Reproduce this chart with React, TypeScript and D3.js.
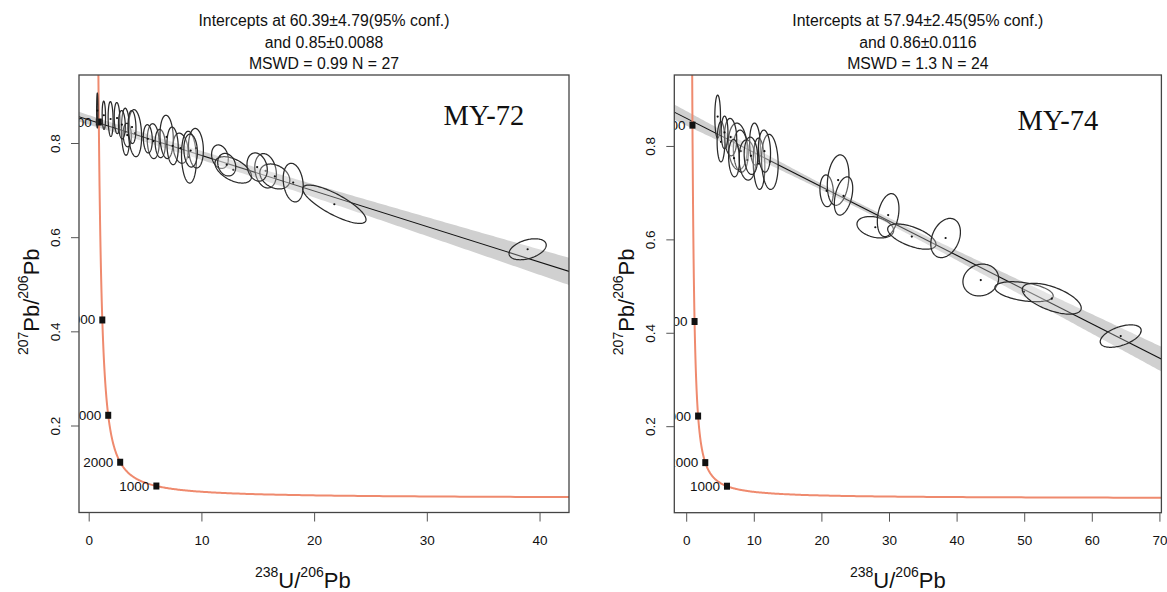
import React from "react";
import * as d3 from "d3";

// decay constants (per Ma) and U ratio
const L238 = 1.55125e-4;
const L235 = 9.8485e-4;
const U85 = 137.818;

const concordiaAges = [1000, 2000, 3000, 4000, 5000];

// ---- sample MY-72 ----
const titleA = ["Intercepts at 60.39±4.79(95% conf.)", "and 0.85±0.0088", "MSWD = 0.99 N = 27"];
const sampleA = "MY-72";
const lowerAgeA = 60.39;
const upperYA = 0.85;
const xTicksA = [0, 10, 20, 30, 40];
const yTicksA = [0.2, 0.4, 0.6, 0.8];
const xA = [0.72, 1.9, 2.47, 3.23, 3.38, 4.06, 2.9, 3.8, 5.68, 6.3, 6.87, 8.11, 8.85, 9.47, 9.0, 11.6, 12.78, 12.2, 15.65, 16.47, 18.1, 21.75, 38.9, 1.3, 5.2, 7.4, 14.9];
const sxA = [0.06, 0.22, 0.25, 0.37, 0.37, 0.59, 0.3, 0.35, 0.53, 0.45, 0.59, 0.66, 0.66, 0.66, 0.6, 0.74, 1.62, 0.8, 0.96, 1.33, 0.89, 2.81, 1.65, 0.15, 0.4, 0.5, 0.9];
const yA = [0.87, 0.852, 0.854, 0.825, 0.818, 0.822, 0.84, 0.835, 0.805, 0.8, 0.814, 0.79, 0.771, 0.79, 0.785, 0.772, 0.744, 0.755, 0.742, 0.73, 0.717, 0.671, 0.5754, 0.86, 0.81, 0.795, 0.75];
const syA = [0.037, 0.037, 0.033, 0.05, 0.025, 0.05, 0.03, 0.035, 0.037, 0.03, 0.046, 0.032, 0.055, 0.042, 0.035, 0.025, 0.028, 0.024, 0.0365, 0.0265, 0.041, 0.0407, 0.0223, 0.03, 0.03, 0.04, 0.03];
const rhoA = [0, -0.1, -0.1, -0.1, -0.1, -0.15, -0.1, -0.1, -0.1, -0.1, -0.1, -0.2, -0.1, -0.1, -0.1, -0.2, -0.5, -0.2, -0.2, -0.3, -0.2, -0.8, 0.4, -0.1, -0.1, -0.1, -0.2];

// ---- sample MY-74 ----
const titleB = ["Intercepts at 57.94±2.45(95% conf.)", "and 0.86±0.0116", "MSWD = 1.3 N = 24"];
const sampleB = "MY-74";
const lowerAgeB = 57.94;
const upperYB = 0.86;
const xTicksB = [0, 10, 20, 30, 40, 50, 60, 70];
const yTicksB = [0.2, 0.4, 0.6, 0.8];
const xB = [4.58, 5.07, 7.54, 8.0, 8.97, 10.1, 10.7, 12.3, 20.7, 22.4, 23.2, 27.9, 29.8, 33.3, 38.3, 43.5, 49.9, 54.0, 64.2, 6.5, 9.5, 11.5, 7.0, 5.6];
const sxB = [0.42, 0.57, 1.4, 1.1, 1.23, 0.79, 0.86, 1.23, 0.99, 1.6, 1.36, 2.71, 1.6, 3.57, 2.19, 2.64, 4.31, 4.36, 3.03, 0.9, 1.0, 0.9, 0.8, 0.5];
const yB = [0.864, 0.81, 0.8, 0.79, 0.771, 0.805, 0.763, 0.767, 0.705, 0.728, 0.694, 0.627, 0.653, 0.607, 0.604, 0.514, 0.489, 0.474, 0.394, 0.82, 0.78, 0.79, 0.775, 0.83];
const syB = [0.046, 0.043, 0.05, 0.045, 0.043, 0.045, 0.055, 0.059, 0.034, 0.054, 0.041, 0.023, 0.046, 0.027, 0.042, 0.034, 0.0214, 0.033, 0.024, 0.04, 0.04, 0.045, 0.04, 0.035];
const rhoB = [0, 0, -0.1, -0.1, -0.1, -0.1, -0.1, -0.1, -0.1, 0.2, 0.4, -0.3, 0.3, -0.6, 0.3, 0.1, -0.4, -0.6, 0.5, -0.1, -0.1, -0.1, -0.1, 0];

const FONT = "'Liberation Sans', Arial, sans-serif";

const tw = (t: number) => {
  const x = 1 / (Math.exp(L238 * t) - 1);
  const y = (Math.exp(L235 * t) - 1) / (Math.exp(L238 * t) - 1) / U85;
  return [x, y] as [number, number];
};

type PanelProps = {
  id: string;
  left: number; right: number; top: number; bottom: number;
  xd: [number, number]; yd: [number, number];
  title: string[]; sample: string; sampleX: number; sampleY: number;
  lowerAge: number; upperY: number;
  xTicks: number[]; yTicks: number[];
  ex: number[]; esx: number[]; ey: number[]; esy: number[]; erho: number[];
  band0: number; bandSlope: number; bandCenter: number;
  yTitleX: number; xTitleStart: number;
};

function Panel(p: PanelProps) {
  const x = d3.scaleLinear().domain(p.xd).range([p.left, p.right]);
  const y = d3.scaleLinear().domain(p.yd).range([p.bottom, p.top]);
  const line = d3.line<[number, number]>().x((d) => x(d[0])).y((d) => y(d[1]));
  const closed = d3.line<[number, number]>().x((d) => x(d[0])).y((d) => y(d[1])).curve(d3.curveLinearClosed);

  // concordia curve (model)
  const ages: number[] = [];
  for (let i = 0; i <= 500; i++) ages.push(Math.exp(Math.log(10) + (Math.log(5600) - Math.log(10)) * (i / 500)));
  const conc = ages.map(tw).filter((d) => d[0] < p.xd[1] + 60);

  // discordia through upper y-intercept and lower concordia intercept
  const lowPt = tw(p.lowerAge);
  const slope = (lowPt[1] - p.upperY) / lowPt[0];
  const fx = (v: number) => p.upperY + slope * v;
  const xs = d3.range(p.xd[0] - 1, p.xd[1] + 1, 0.25);
  const hw = (v: number) => Math.sqrt(p.band0 * p.band0 + Math.pow(p.bandSlope * (v - p.bandCenter), 2));
  const bandPts: [number, number][] = [
    ...xs.map((v) => [v, fx(v) + hw(v)] as [number, number]),
    ...xs.slice().reverse().map((v) => [v, fx(v) - hw(v)] as [number, number]),
  ];

  const ellipses = p.ex.map((cx, i) => {
    const pts: [number, number][] = [];
    const r = p.erho[i];
    const s = Math.sqrt(1 - r * r);
    for (let k = 0; k < 120; k++) {
      const t = (k / 120) * Math.PI * 2;
      pts.push([cx + p.esx[i] * Math.cos(t), p.ey[i] + p.esy[i] * (r * Math.cos(t) + s * Math.sin(t))]);
    }
    return { d: closed(pts) || "", cx, cy: p.ey[i] };
  });

  const cx = (p.left + p.right) / 2;
  const midY = (p.top + p.bottom) / 2;
  return (
    <g fontFamily={FONT}>
      <defs>
        <clipPath id={p.id}>
          <rect x={p.left} y={p.top} width={p.right - p.left} height={p.bottom - p.top} />
        </clipPath>
      </defs>
      {p.title.map((t, i) => (
        <text key={i} x={cx} y={26 + i * 21.5} textAnchor="middle" fontSize={15.8} fill="#111">{t}</text>
      ))}
      <g clipPath={`url(#${p.id})`}>
        <path d={line(bandPts) || ""} fill="#d0d0d0" stroke="none" />
        <path d={line([[p.xd[0] - 1, fx(p.xd[0] - 1)], [p.xd[1] + 1, fx(p.xd[1] + 1)]]) || ""} stroke="#111" strokeWidth={1.1} fill="none" />
        <path d={line(conc) || ""} stroke="#ef8a6e" strokeWidth={2} fill="none" />
        {concordiaAges.map((a) => {
          const [px, py] = tw(a);
          return (
            <g key={a}>
              <text x={x(px) - 7} y={y(py) + 4.5} textAnchor="end" fontSize={13.5} fill="#111">{a}</text>
              <rect x={x(px) - 3} y={y(py) - 3.5} width={6} height={7} fill="#111" />
            </g>
          );
        })}
        {ellipses.map((e, i) => (
          <g key={i}>
            <path d={e.d} fill="rgba(255,255,255,0.25)" stroke="#2a2a2a" strokeWidth={1.25} />
            <circle cx={x(e.cx)} cy={y(e.cy)} r={1.1} fill="#111" />
          </g>
        ))}
      </g>
      <rect x={p.left} y={p.top} width={p.right - p.left} height={p.bottom - p.top} fill="none" stroke="#444" strokeWidth={1.3} />
      {p.xTicks.map((t) => (
        <g key={t}>
          <line x1={x(t)} x2={x(t)} y1={p.bottom} y2={p.bottom + 9} stroke="#555" strokeWidth={1} />
          <text x={x(t)} y={p.bottom + 32} textAnchor="middle" fontSize={13.5} fill="#111">{t}</text>
        </g>
      ))}
      {p.yTicks.map((t) => (
        <g key={t}>
          <line x1={p.left - 8} x2={p.left} y1={y(t)} y2={y(t)} stroke="#555" strokeWidth={1} />
          <text transform={`translate(${p.left - 19},${y(t)}) rotate(-90)`} textAnchor="middle" fontSize={13.5} fill="#111">{t.toFixed(1)}</text>
        </g>
      ))}
      <text x={p.xTitleStart} y={588} fontSize={22} fill="#111">
        <tspan fontSize={14} dy={-11}>238</tspan>
        <tspan dy={11}>U/</tspan>
        <tspan fontSize={14} dy={-11}>206</tspan>
        <tspan dy={11}>Pb</tspan>
      </text>
      <text transform={`translate(${p.yTitleX},${midY + 8}) rotate(-90)`} textAnchor="middle" fontSize={22} fill="#111">
        <tspan fontSize={14} dy={-11}>207</tspan>
        <tspan dy={11}>Pb/</tspan>
        <tspan fontSize={14} dy={-11}>206</tspan>
        <tspan dy={11}>Pb</tspan>
      </text>
      <text x={p.sampleX} y={p.sampleY} textAnchor="middle" fontSize={28.5} fontFamily="'Liberation Serif', 'Times New Roman', serif" fill="#111">{p.sample}</text>
    </g>
  );
}

export default function App() {
  return (
    <svg width={1167} height={592} style={{ position: "absolute", left: 0, top: 0, background: "#fff" }}>
      <rect width={1167} height={592} fill="#fff" />
      <Panel
        id="clipA" left={79} right={569} top={75} bottom={512.5}
        xd={[-0.905, 42.57]} yd={[0.0163, 0.9455]}
        title={titleA} sample={sampleA} sampleX={484} sampleY={125}
        lowerAge={lowerAgeA} upperY={upperYA}
        xTicks={xTicksA} yTicks={yTicksA}
        ex={xA} esx={sxA} ey={yA} esy={syA} erho={rhoA}
        band0={0.009} bandSlope={0.00075} bandCenter={6}
        yTitleX={38.5} xTitleStart={255}
      />
      <Panel
        id="clipB" left={674.3} right={1161.4} top={75} bottom={512.7}
        xd={[-1.834, 70.22]} yd={[0.0158, 0.953]}
        title={titleB} sample={sampleB} sampleX={1058} sampleY={130}
        lowerAge={lowerAgeB} upperY={upperYB}
        xTicks={xTicksB} yTicks={yTicksB}
        ex={xB} esx={sxB} ey={yB} esy={syB} erho={rhoB}
        band0={0.006} bandSlope={0.00057} bandCenter={25}
        yTitleX={634} xTitleStart={850}
      />
    </svg>
  );
}
